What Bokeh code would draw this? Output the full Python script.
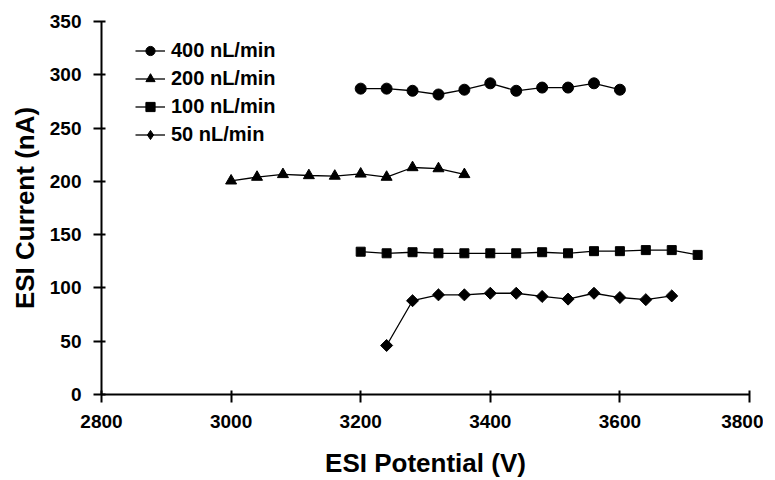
import math
from bokeh.plotting import figure
from bokeh.models import Range1d, FixedTicker, Legend, LegendItem
from bokeh.embed import file_html
from bokeh.resources import INLINE

# Data
x400 = [3200, 3240, 3280, 3320, 3360, 3400, 3440, 3480, 3520, 3560, 3600]
y400 = [287, 287, 285, 281.5, 286, 292, 285, 288, 288, 292, 286]

x200 = [3000, 3040, 3080, 3120, 3160, 3200, 3240, 3280, 3320, 3360]
y200 = [200.5, 204, 206.5, 205.5, 205, 207, 204, 213, 212, 206.5]

x100 = [3200, 3240, 3280, 3320, 3360, 3400, 3440, 3480, 3520, 3560, 3600, 3640, 3680, 3720]
y100 = [134, 132.5, 133.5, 132.5, 132.5, 132.5, 132.5, 133.5, 132.5, 134.5, 134.5, 135.5, 135.5, 131]

x50 = [3240, 3280, 3320, 3360, 3400, 3440, 3480, 3520, 3560, 3600, 3640, 3680]
y50 = [46, 88, 93.5, 93.5, 95, 95, 92, 89.5, 95, 91, 89, 92.5]

series_labels = ["400 nL/min", "200 nL/min", "100 nL/min", "50 nL/min"]
x_ticks = [2800, 3000, 3200, 3400, 3600, 3800]
y_ticks = [0, 50, 100, 150, 200, 250, 300, 350]

FONT = "Liberation Sans"

p = figure(width=763, height=480, output_backend="svg", toolbar_location=None,
           x_range=Range1d(2800, 3800), y_range=Range1d(0, 350),
           min_border_left=101, min_border_right=14, min_border_top=21, min_border_bottom=86)
p.outline_line_color = None
p.xgrid.visible = False
p.ygrid.visible = False

series = [
    (x400, y400, "circle", 11, 0, "circle"),
    (x200, y200, "triangle", 11, 0, "triangle"),
    (x100, y100, "square", 9, 0, "square"),
    (x50, y50, "square", 8.5, math.pi / 4, "diamond"),
]
items = []
for (xs, ys, marker, size, ang, leg_marker), lab in zip(series, series_labels):
    r1 = p.line(xs, ys, line_color="black", line_width=1.3)
    r2 = p.scatter(xs, ys, marker=marker, size=size, angle=ang,
                   fill_color="black", line_color="black")
    if leg_marker != marker:
        # small diamond drawn inside each rotated square, so the legend shows a diamond
        r2 = p.scatter(xs, ys, marker=leg_marker, size=6,
                       fill_color="black", line_color="black")
    items.append(LegendItem(label=lab, renderers=[r1, r2]))

legend = Legend(items=items, location=(34, 248))
legend.border_line_color = None
legend.background_fill_alpha = 0
legend.padding = 0
legend.margin = 0
legend.spacing = 5
legend.glyph_width = 30
legend.glyph_height = 23
legend.label_height = 23
legend.label_standoff = 6
legend.label_text_font = FONT
legend.label_text_font_style = "bold"
legend.label_text_font_size = "20px"
legend.label_text_color = "black"
p.add_layout(legend, "center")

for ax in (p.xaxis[0], p.yaxis[0]):
    ax.axis_line_width = 2
    ax.axis_line_color = "black"
    ax.major_tick_line_width = 2
    ax.major_tick_line_color = "black"
    ax.major_tick_out = 8
    ax.major_tick_in = 4
    ax.minor_tick_line_color = None
    ax.major_label_text_font = FONT
    ax.major_label_text_font_style = "bold"
    ax.major_label_text_font_size = "19px"
    ax.major_label_text_color = "black"
    ax.axis_label_text_font = FONT
    ax.axis_label_text_font_style = "bold"
    ax.axis_label_text_font_size = "26px"
    ax.axis_label_text_color = "black"

p.xaxis.ticker = FixedTicker(ticks=x_ticks)
p.yaxis.ticker = FixedTicker(ticks=y_ticks)
p.xaxis.axis_label = "ESI Potential (V)"
p.yaxis.axis_label = "ESI Current (nA)"
p.xaxis.major_label_standoff = 12
p.yaxis.major_label_standoff = 12
p.xaxis.axis_label_standoff = 17
p.yaxis.axis_label_standoff = 7

open("out.html", "w").write(file_html(p, INLINE))
